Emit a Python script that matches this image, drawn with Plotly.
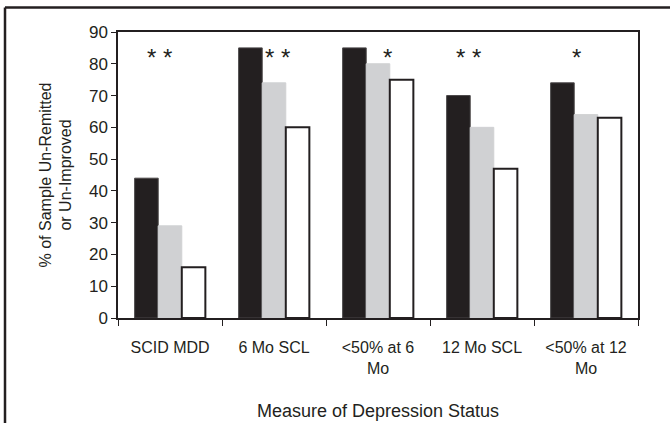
import plotly.graph_objects as go

categories = ["SCID MDD", "6 Mo SCL", "<50% at 6<br>Mo", "12 Mo SCL", "<50% at 12<br>Mo"]
series_black = [44, 85, 85, 70, 74]
series_gray = [29, 74, 80, 60, 64]
series_white = [16, 60, 75, 47, 63]
sig_labels = ["* *", "* *", "*", "* *", "*"]
sig_x = [-0.1, 1.03, 2.09, 2.87, 3.91]
sig_y = [82, 82, 82, 82, 82]

INK = "#231f20"
FONT = "Liberation Sans, Arial, sans-serif"

fig = go.Figure()
fig.add_trace(go.Bar(x=categories, y=series_black, marker=dict(color=INK, line=dict(color="#4a4748", width=1))))
fig.add_trace(go.Bar(x=categories, y=series_gray, marker=dict(color="#d0d1d3", line=dict(color="#d0d1d3", width=1))))
fig.add_trace(go.Bar(x=categories, y=series_white, marker=dict(color="white", line=dict(color=INK, width=2))))

for t, x, y in zip(sig_labels, sig_x, sig_y):
    fig.add_annotation(x=x, y=y, text=t, showarrow=False, xref="x", yref="y",
                       font=dict(family=FONT, size=24, color=INK))

# outer frame lines (top and left)
fig.add_shape(type="line", xref="paper", yref="paper", x0=-0.2173, x1=1.2, y0=1.0857, y1=1.0857,
              line=dict(color=INK, width=2.5))
fig.add_shape(type="line", xref="paper", yref="paper", x0=-0.2173, x1=-0.2173, y0=-0.5, y1=1.0857,
              line=dict(color=INK, width=2.5))

fig.update_layout(
    width=670, height=423,
    margin=dict(l=118, r=32, t=32, b=105),
    paper_bgcolor="white", plot_bgcolor="white",
    barmode="group", bargap=0.32, bargroupgap=0,
    showlegend=False,
    font=dict(family=FONT, color=INK),
)
fig.update_xaxes(
    type="category", tickson="boundaries", ticks="outside", ticklen=6, tickcolor=INK, tickwidth=1,
    showline=True, linecolor=INK, linewidth=1.5, mirror=True, showgrid=False, automargin=False,
    tickfont=dict(family=FONT, size=16, color=INK), ticklabelstandoff=14,
    title=dict(text="Measure of Depression Status", font=dict(family=FONT, size=18, color=INK), standoff=29),
)
fig.update_yaxes(
    range=[0, 90], dtick=10, ticks="outside", ticklen=5, tickcolor=INK, tickwidth=1,
    showline=True, linecolor=INK, linewidth=1.5, mirror=True, showgrid=False, zeroline=False, automargin=False,
    tickfont=dict(family=FONT, size=17, color=INK),
    title=dict(text="% of Sample Un-Remitted<br>or Un-Improved", font=dict(family=FONT, size=16, color=INK), standoff=13),
)

fig.write_html("out.html", config={"displayModeBar": False},
               post_script="document.body.style.margin='0';")
